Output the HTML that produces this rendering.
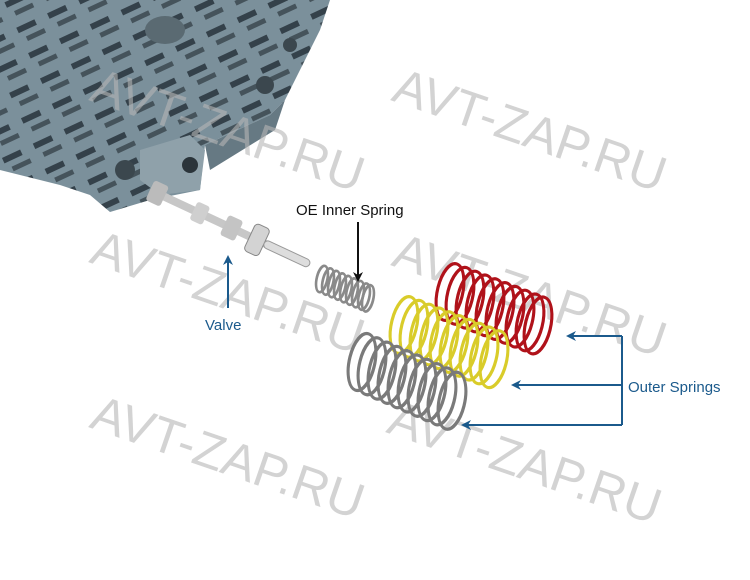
<!DOCTYPE html>
<html><head><meta charset="utf-8"><style>
html,body{margin:0;padding:0;background:#fff;}
svg{display:block;}
.wm{font-family:"Liberation Sans",sans-serif;font-size:50px;fill:#b5b5b5;fill-opacity:0.6;}
.lb{font-family:"Liberation Sans",sans-serif;font-size:15px;}
</style></head><body>
<svg width="750" height="580" viewBox="0 0 750 580" xmlns="http://www.w3.org/2000/svg">
<defs>
<marker id="ab" markerWidth="10" markerHeight="10" refX="8" refY="5" orient="auto" markerUnits="userSpaceOnUse"><path d="M0,0 L10,5 L0,10 L3,5z" fill="#1b5a8c"/></marker>
<marker id="ak" markerWidth="10" markerHeight="10" refX="8" refY="5" orient="auto" markerUnits="userSpaceOnUse"><path d="M0,0 L10,5 L0,10 L3,5z" fill="#111"/></marker>
<pattern id="ch" width="34" height="28" patternUnits="userSpaceOnUse" patternTransform="rotate(-25)">
<rect width="34" height="28" fill="#7b909b"/><rect x="3" y="4" width="20" height="6" fill="#34414a"/><rect x="8" y="16" width="20" height="5" fill="#45535b"/></pattern>
</defs>
<polygon points="0,0 330,0 320,30 300,70 285,100 270,115 205,145 200,190 150,200 110,212 90,195 60,185 0,170" fill="url(#ch)"/>
<polygon points="205,145 270,115 285,100 275,130 210,170" fill="#667983"/>
<polygon points="140,150 190,135 205,150 200,190 160,195 140,180" fill="#8fa1aa"/>
<circle cx="190" cy="165" r="8" fill="#2b343a"/>
<circle cx="125" cy="170" r="10" fill="#3b474e"/>
<circle cx="265" cy="85" r="9" fill="#3b474e"/>
<circle cx="290" cy="45" r="7" fill="#3b474e"/>
<ellipse cx="165" cy="30" rx="20" ry="14" fill="#5a6a72"/>
<g transform="translate(150,190) rotate(25)">
<rect x="0" y="-4" width="170" height="8" fill="#c7c7c7"/>
<rect x="0" y="-11" width="16" height="22" rx="3" fill="#bbb"/>
<rect x="48" y="-10" width="14" height="20" rx="3" fill="#cfcfcf"/>
<rect x="82" y="-11" width="16" height="22" rx="3" fill="#c4c4c4"/>
<rect x="110" y="-15" width="16" height="30" rx="4" fill="#d3d3d3" stroke="#888"/>
<rect x="126" y="-4" width="50" height="8" rx="4" fill="#ddd" stroke="#999"/>
</g>
<g class="wm">
<text transform="translate(88,100) rotate(19)">AVT-ZAP.RU</text>
<text transform="translate(390,100) rotate(19)">AVT-ZAP.RU</text>
<text transform="translate(88,262) rotate(19)">AVT-ZAP.RU</text>
<text transform="translate(390,265) rotate(19)">AVT-ZAP.RU</text>
<text transform="translate(88,427) rotate(19)">AVT-ZAP.RU</text>
<text transform="translate(385,432) rotate(19)">AVT-ZAP.RU</text>
</g>
<!-- inner spring -->
<g transform="matrix(1,0.42,-0.25,1,322,279)" fill="none" stroke="#8a8a8a" stroke-width="2.5">
<ellipse cx="0" rx="5" ry="13"/><ellipse cx="6" rx="5" ry="13"/><ellipse cx="12" rx="5" ry="13"/><ellipse cx="18" rx="5" ry="13"/><ellipse cx="24" rx="5" ry="13"/><ellipse cx="30" rx="5" ry="13"/><ellipse cx="36" rx="5" ry="13"/><ellipse cx="42" rx="5" ry="13"/><ellipse cx="46" rx="5" ry="13"/>
</g>
<!-- red spring -->
<g transform="matrix(1,0.38,-0.25,1,450,292)" fill="none" stroke="#b0121a" stroke-width="3">
<ellipse cx="0" rx="12" ry="28"/><ellipse cx="10" rx="12" ry="28"/><ellipse cx="20" rx="12" ry="28"/><ellipse cx="30" rx="12" ry="28"/><ellipse cx="40" rx="12" ry="28"/><ellipse cx="50" rx="12" ry="28"/><ellipse cx="60" rx="12" ry="28"/><ellipse cx="70" rx="12" ry="28"/><ellipse cx="80" rx="12" ry="28"/><ellipse cx="88" rx="12" ry="28"/>
</g>
<!-- yellow spring -->
<g transform="matrix(1,0.38,-0.25,1,404,325)" fill="none" stroke="#d9cc2a" stroke-width="3">
<ellipse cx="0" rx="12" ry="28"/><ellipse cx="10" rx="12" ry="28"/><ellipse cx="20" rx="12" ry="28"/><ellipse cx="30" rx="12" ry="28"/><ellipse cx="40" rx="12" ry="28"/><ellipse cx="50" rx="12" ry="28"/><ellipse cx="60" rx="12" ry="28"/><ellipse cx="70" rx="12" ry="28"/><ellipse cx="80" rx="12" ry="28"/><ellipse cx="90" rx="12" ry="28"/>
</g>
<!-- gray spring -->
<g transform="matrix(1,0.43,-0.25,1,362,362)" fill="none" stroke="#7a7a7a" stroke-width="3">
<ellipse cx="0" rx="12" ry="28"/><ellipse cx="10" rx="12" ry="28"/><ellipse cx="20" rx="12" ry="28"/><ellipse cx="30" rx="12" ry="28"/><ellipse cx="40" rx="12" ry="28"/><ellipse cx="50" rx="12" ry="28"/><ellipse cx="60" rx="12" ry="28"/><ellipse cx="70" rx="12" ry="28"/><ellipse cx="80" rx="12" ry="28"/><ellipse cx="90" rx="12" ry="28"/>
</g>
<text class="lb" x="296" y="215" fill="#111">OE Inner Spring</text>
<line x1="358" y1="222" x2="358" y2="280" stroke="#111" stroke-width="2" marker-end="url(#ak)"/>
<text class="lb" x="205" y="330" fill="#1b5a8c">Valve</text>
<line x1="228" y1="308" x2="228" y2="257" stroke="#1b5a8c" stroke-width="2" marker-end="url(#ab)"/>
<g stroke="#1b5a8c" stroke-width="2" fill="none">
<polyline points="622,336 622,425"/>
<line x1="622" y1="336" x2="568" y2="336" marker-end="url(#ab)"/>
<line x1="622" y1="385" x2="513" y2="385" marker-end="url(#ab)"/>
<line x1="622" y1="425" x2="463" y2="425" marker-end="url(#ab)"/>
</g>
<text class="lb" x="628" y="392" fill="#1b5a8c">Outer Springs</text>
</svg>
</body></html>
